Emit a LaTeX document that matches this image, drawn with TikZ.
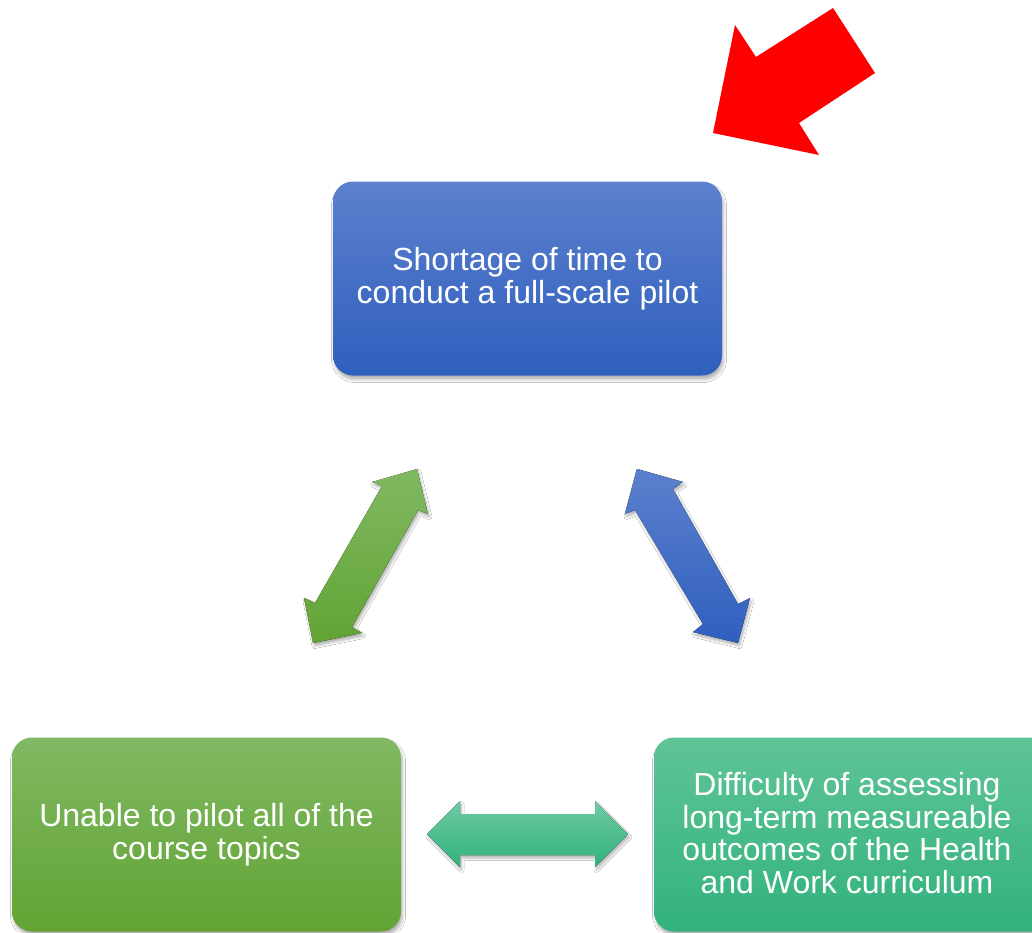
\documentclass[tikz,border=0pt]{standalone}
\usepackage{fontspec}
\setmainfont{Liberation Sans}
\usetikzlibrary{shadows.blur}
\definecolor{bluetop}{RGB}{92,128,205}
\definecolor{bluebot}{RGB}{47,95,190}
\definecolor{greentop}{RGB}{128,185,98}
\definecolor{greenbot}{RGB}{98,163,52}
\definecolor{tealtop}{RGB}{95,196,152}
\definecolor{tealbot}{RGB}{50,178,125}
\definecolor{arrowred}{RGB}{255,0,0}
\tikzset{
  box/.style={rounded corners=20pt, minimum width=389pt, minimum height=194pt,
    text=white, align=center, inner sep=0pt,
    font=\fontsize{32}{33}\selectfont,
    blur shadow={shadow blur steps=6, shadow xshift=1.5pt, shadow yshift=-4pt, shadow blur radius=3pt, shadow opacity=30}},
  bluefill/.style={top color=bluetop, bottom color=bluebot},
  greenfill/.style={top color=greentop, bottom color=greenbot},
  tealfill/.style={top color=tealtop, bottom color=tealbot},
  blockarrow/.style={blur shadow={shadow blur steps=6, shadow xshift=1.5pt, shadow yshift=-3pt, shadow blur radius=2.5pt, shadow opacity=30}},
}
\begin{document}
\begin{tikzpicture}[x=1pt,y=-1pt]
\useasboundingbox[fill=white] (0,0) rectangle (1032,932);
% boxes
\node[box, bluefill] (top) at (527.5,278.5) {Shortage of time to\\conduct a full-scale pilot};
\node[box, greenfill] (left) at (206.5,834.5) {Unable to pilot all of the\\course topics};
\node[box, tealfill, minimum width=400pt] (right) at (854,834.5) {};
\node[text=white, align=center, inner sep=0pt, font=\fontsize{32}{32.5}\selectfont] (righttext) at (847,833) {Difficulty of assessing\\long-term measureable\\outcomes of the Health\\and Work curriculum};
% red arrow
\fill[arrowred] (833,8) -- (875,73) -- (799,123) -- (819,155) -- (713,133) -- (735,25) -- (756,57) -- cycle;
% green double arrow
\fill[greenfill, blockarrow] (417,469) -- (428,514) -- (418,510) -- (352,627) -- (362,633) -- (313,643)
  -- (304,598) -- (315,603) -- (382,486) -- (372,482) -- cycle;
% blue double arrow
\fill[bluefill, blockarrow] (637,469) -- (683,482) -- (673,489) -- (738,604) -- (750,598) -- (738,643)
  -- (693,632) -- (703,624) -- (635,510) -- (625,514) -- cycle;
% teal horizontal double arrow
\fill[top color=tealtop!90!white, bottom color=tealbot, blockarrow] (427,834) -- (460,801) -- (460,814) -- (595,814) -- (595,801) -- (628,834)
  -- (595,867) -- (595,855) -- (460,855) -- (460,867) -- cycle;
\end{tikzpicture}
\end{document}
